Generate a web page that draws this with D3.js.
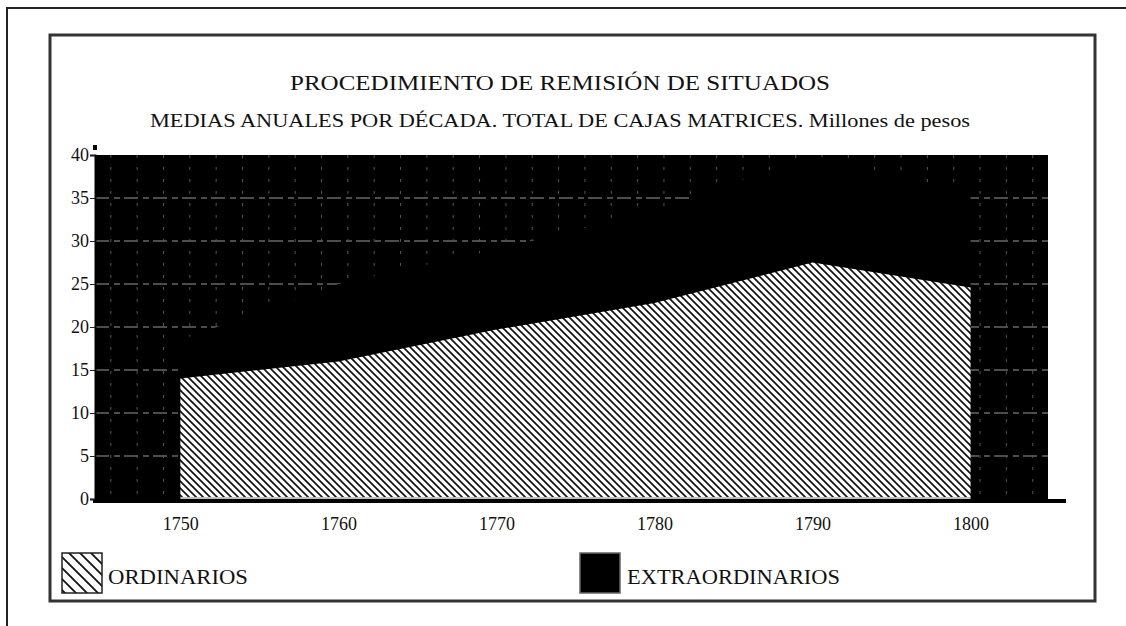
<!DOCTYPE html>
<html>
<head>
<meta charset="utf-8">
<script src="https://cdn.jsdelivr.net/npm/d3@7"></script>
<style>
  html, body { margin: 0; padding: 0; background: #fff; }
  svg { display: block; }
  text { font-family: "Liberation Serif", "DejaVu Serif", serif; fill: #111; }
</style>
</head>
<body>
<div id="chart"></div>
<script>
// decade means, millions of pesos
var years = [1750, 1760, 1770, 1780, 1790, 1800];
var ordinarios = [14, 16, 19.7, 22.8, 27.5, 24.6];
var extraordinarios = [4.5, 9, 9.3, 10.7, 12.5, 11];
var yTicks = [0, 5, 10, 15, 20, 25, 30, 35, 40];
var xTicks = [1750, 1760, 1770, 1780, 1790, 1800];
var titleText = 'PROCEDIMIENTO DE REMISIÓN DE SITUADOS';
var subtitleText = 'MEDIAS ANUALES POR DÉCADA. TOTAL DE CAJAS MATRICES. Millones de pesos';
var legendLabels = ['ORDINARIOS', 'EXTRAORDINARIOS'];

var W = 1126, H = 626;
var svg = d3.select('#chart').append('svg')
    .attr('width', W)
    .attr('height', H);

var x = d3.scaleLinear().domain([1744.6, 1804.9]).range([95, 1048]);
var y = d3.scaleLinear().domain([0, 40]).range([499, 155]);

var rows = years.map(function (yr, i) {
    return { year: yr, ord: ordinarios[i], tot: ordinarios[i] + extraordinarios[i] };
});

/* hatch patterns */
var defs = svg.append('defs');
function hatch(id, s, w) {
    var p = defs.append('pattern')
        .attr('id', id)
        .attr('patternUnits', 'userSpaceOnUse')
        .attr('width', s)
        .attr('height', s);
    p.append('rect').attr('width', s).attr('height', s).attr('fill', '#fff');
    p.append('path')
        .attr('d', 'M0,0L' + s + ',' + s + 'M-2,' + (s - 2) + 'L2,' + (s + 2) + 'M' + (s - 2) + ',-2L' + (s + 2) + ',2')
        .attr('stroke', '#111')
        .attr('stroke-width', w);
}
hatch('hatch', 7, 1.7);
hatch('hatch-legend', 11, 1.8);

/* page + chart frames */
svg.append('path')
    .attr('d', 'M7,626V8H1126')
    .attr('fill', 'none')
    .attr('stroke', '#222')
    .attr('stroke-width', 2);

svg.append('rect')
    .attr('x', 50).attr('y', 35)
    .attr('width', 1045).attr('height', 566)
    .attr('fill', 'none')
    .attr('stroke', '#333')
    .attr('stroke-width', 3);

/* titles */
svg.append('text')
    .attr('x', 560).attr('y', 90)
    .attr('text-anchor', 'middle')
    .style('font-size', '21px')
    .attr('textLength', 540)
    .attr('lengthAdjust', 'spacingAndGlyphs')
    .text(titleText);

svg.append('text')
    .attr('x', 560).attr('y', 127)
    .attr('text-anchor', 'middle')
    .style('font-size', '18px')
    .attr('textLength', 820)
    .attr('lengthAdjust', 'spacingAndGlyphs')
    .text(subtitleText);

/* plot background */
var plot = svg.append('g');
plot.append('rect')
    .attr('x', x.range()[0]).attr('y', y(40))
    .attr('width', x.range()[1] - x.range()[0])
    .attr('height', y(0) - y(40))
    .attr('fill', '#000');

/* faint dotted grid */
plot.selectAll('.hgrid')
    .data(yTicks.filter(function (d) { return d > 0 && d < 40; }))
    .enter().append('line')
    .attr('class', 'hgrid')
    .attr('x1', x.range()[0]).attr('x2', x.range()[1])
    .attr('y1', function (d) { return y(d); })
    .attr('y2', function (d) { return y(d); })
    .attr('stroke', '#999')
    .attr('stroke-width', 1.2)
    .attr('stroke-dasharray', '14,5,6,4');

plot.selectAll('.vgrid')
    .data(d3.range(1745.6, 1804.9, 10 / 6))
    .enter().append('line')
    .attr('class', 'vgrid')
    .attr('x1', function (d) { return x(d); })
    .attr('x2', function (d) { return x(d); })
    .attr('y1', y(40)).attr('y2', y(0))
    .attr('stroke', '#555')
    .attr('stroke-width', 1)
    .attr('stroke-dasharray', '3,9');

/* stacked areas */
var totalArea = d3.area()
    .x(function (d) { return x(d.year); })
    .y0(y(0))
    .y1(function (d) { return y(d.tot); });

var ordArea = d3.area()
    .x(function (d) { return x(d.year); })
    .y0(y(0) - 2)
    .y1(function (d) { return y(d.ord); });

plot.append('path')
    .datum(rows)
    .attr('d', totalArea)
    .attr('fill', '#000');

plot.append('path')
    .datum(rows)
    .attr('d', ordArea)
    .attr('fill', 'url(#hatch)');

/* baseline */
svg.append('line')
    .attr('x1', x(years[0])).attr('x2', x(years[years.length - 1]))
    .attr('y1', y(0) - 1).attr('y2', y(0) - 1)
    .attr('stroke', '#fff')
    .attr('stroke-width', 1.5);

svg.append('line')
    .attr('x1', x.range()[0] - 2).attr('x2', 1066)
    .attr('y1', y(0) + 2).attr('y2', y(0) + 2)
    .attr('stroke', '#000')
    .attr('stroke-width', 4);

/* axes */
var yAxis = svg.append('g')
    .attr('transform', 'translate(' + x.range()[0] + ',0)')
    .call(d3.axisLeft(y).tickValues(yTicks).tickSize(5).tickPadding(1));
yAxis.select('.domain').attr('stroke', '#000').attr('stroke-width', 2);
yAxis.selectAll('.tick line').attr('stroke', '#222');
yAxis.selectAll('.tick text')
    .style('font-size', '18px')
    .style('fill', '#111');

var xAxis = svg.append('g')
    .attr('transform', 'translate(0,' + (y(0) + 4) + ')')
    .call(d3.axisBottom(x).tickValues(xTicks).tickFormat(d3.format('d')).tickSize(0).tickPadding(14));
xAxis.select('.domain').remove();
xAxis.selectAll('.tick text')
    .style('font-size', '18px')
    .style('fill', '#111');

svg.append('rect')
    .attr('x', x.range()[0] - 2).attr('y', y(40) - 10)
    .attr('width', 4).attr('height', 5)
    .attr('fill', '#000');

/* legend */
var legend = svg.append('g');
legend.append('rect')
    .attr('x', 62).attr('y', 553)
    .attr('width', 40).attr('height', 40)
    .attr('fill', 'url(#hatch-legend)')
    .attr('stroke', '#222')
    .attr('stroke-width', 1.5);
legend.append('text')
    .attr('x', 108).attr('y', 584)
    .style('font-size', '20px')
    .attr('textLength', 140)
    .attr('lengthAdjust', 'spacingAndGlyphs')
    .text(legendLabels[0]);

legend.append('rect')
    .attr('x', 580).attr('y', 553)
    .attr('width', 40).attr('height', 40)
    .attr('fill', '#000')
    .attr('stroke', '#666')
    .attr('stroke-width', 1.5);
legend.append('text')
    .attr('x', 627).attr('y', 584)
    .style('font-size', '20px')
    .attr('textLength', 213)
    .attr('lengthAdjust', 'spacingAndGlyphs')
    .text(legendLabels[1]);
</script>
</body>
</html>
